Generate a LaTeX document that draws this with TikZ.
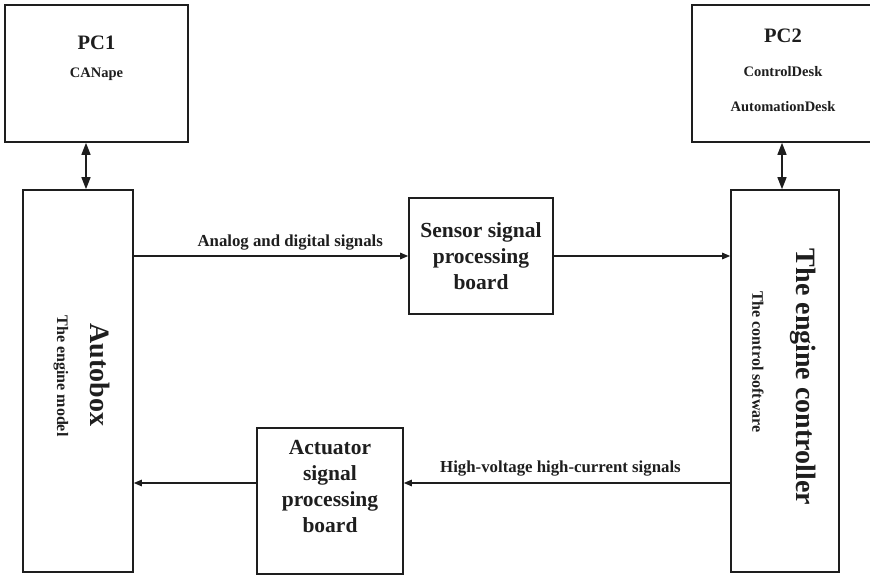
\documentclass[tikz,border=0pt]{standalone}
\usepackage{fontspec}
\setmainfont{Liberation Serif}
\usetikzlibrary{arrows.meta,positioning}
\definecolor{ink}{HTML}{1E1E1E}
\tikzset{
  blk/.style={draw=ink,line width=1.6pt,fill=white,inner sep=0pt},
  ttl/.style={font=\bfseries\fontsize{20.5}{24}\selectfont,text=ink},
  sub/.style={font=\bfseries\fontsize{14.5}{17}\selectfont,text=ink},
  big/.style={font=\bfseries\fontsize{28}{32}\selectfont,text=ink,rotate=-90},
  mid/.style={font=\bfseries\fontsize{16}{19}\selectfont,text=ink},
  sig/.style={font=\bfseries\fontsize{16.8}{20}\selectfont,text=ink},
  brd/.style={font=\bfseries\fontsize{21.5}{26}\selectfont,text=ink,align=center},
  arr/.style={-{Triangle[length=8pt,width=6.5pt]},line width=1.2pt,color=ink},
  dblarr/.style={{Triangle[length=12pt,width=9pt]}-{Triangle[length=12pt,width=9pt]},line width=1.4pt,color=ink}
}
\begin{document}
\begin{tikzpicture}[x=1pt,y=-1pt]
  \useasboundingbox (0,0) rectangle (870,575);
  \clip (0,0) rectangle (870,575);
  % computers
  \node[blk,minimum width=183pt,minimum height=137pt] (pc1) at (96.5,73.5) {};
  \node[ttl,anchor=base] (pc1t) at (96.5,50) {PC1};
  \node[sub,anchor=base] (pc1s) at (96.5,78) {CANape};
  \node[blk,minimum width=184pt,minimum height=137pt] (pc2) at (784,73.5) {};
  \node[ttl,anchor=base] (pc2t) at (783,43) {PC2};
  \node[sub,anchor=base] (pc2s) at (783,77) {ControlDesk};
  \node[sub,anchor=base] (pc2a) at (783,112) {AutomationDesk};
  % main blocks
  \node[blk,minimum width=110pt,minimum height=382pt] (autobox) at (78,381) {};
  \node[big] (autot) at (100,375) {Autobox};
  \node[mid,rotate=-90] (autos) at (61,376) {The engine model};
  \node[blk,minimum width=108pt,minimum height=382pt] (ctrl) at (785,381) {};
  \node[big] (ctrlt) at (803,377) {The engine controller};
  \node[mid,rotate=-90] (ctrls) at (758,362) {The control software};
  % boards
  \node[blk,brd,minimum width=144pt,minimum height=116pt] (sensor) at (481,256)
    {Sensor signal\\processing\\board};
  \node[blk,minimum width=146pt,minimum height=146pt] (act) at (330,501) {};
  \node[brd,anchor=north] (actt) at (330,437) {Actuator\\signal\\processing\\board};
  % links
  \draw[dblarr] ([xshift=8pt]autobox.north) -- ([xshift=8pt]autobox.north |- pc1.south);
  \draw[dblarr] ([xshift=-3pt]ctrl.north) -- ([xshift=-3pt]ctrl.north |- pc2.south);
  \draw[arr] (sensor.west -| autobox.east) -- (sensor.west)
    node[sig,pos=0.57,above=2pt] (analog) {Analog and digital signals};
  \draw[arr] (sensor.east) -- (sensor.east -| ctrl.west);
  \draw[arr] ([yshift=18pt]act.east -| ctrl.west) -- ([yshift=18pt]act.east)
    node[sig,pos=0.52,above=3pt] (hv) {High-voltage high-current signals};
  \draw[arr] ([yshift=18pt]act.west) -- ([yshift=18pt]act.west -| autobox.east);
\end{tikzpicture}
\end{document}
